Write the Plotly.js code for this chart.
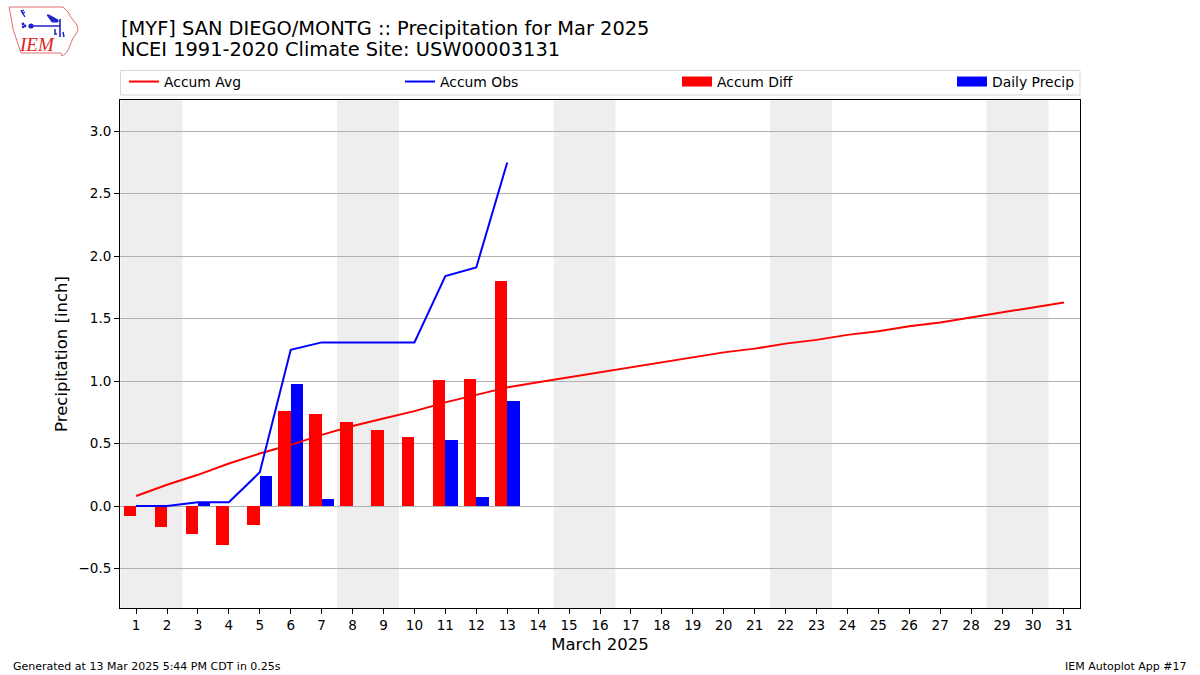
<!DOCTYPE html>
<html><head><meta charset="utf-8">
<script src="https://cdn.plot.ly/plotly-3.0.1.min.js"></script>
<style>html,body{margin:0;padding:0;background:#fff}</style>
</head><body><div id="chart" style="width:1200px;height:675px"></div>
<script>
// ---- data ----
const days = [1,2,3,4,5,6,7,8,9,10,11,12,13,14,15,16,17,18,19,20,21,22,23,24,25,26,27,28,29,30,31];
const tickLabels = days.map(String);
const accumAvg = [0.08,0.17,0.25,0.34,0.42,0.49,0.57,0.64,0.70,0.76,0.83,0.89,0.95,0.99,1.03,1.07,1.11,1.15,1.19,1.23,1.26,1.30,1.33,1.37,1.40,1.44,1.47,1.51,1.55,1.59,1.63];
const obsDays = [1,2,3,4,5,6,7,8,9,10,11,12,13];
const accumObs = [0.00,0.00,0.03,0.03,0.27,1.25,1.31,1.31,1.31,1.31,1.84,1.91,2.75];
const accumDiff = [-0.08,-0.17,-0.22,-0.31,-0.15,0.76,0.74,0.67,0.61,0.55,1.01,1.02,1.80];
const dailyPrecip = [0.00,0.00,0.03,0.00,0.24,0.98,0.06,0.00,0.00,0.00,0.53,0.07,0.84];
const year = 2025, monthIndex = 2;

const FONT = '"DejaVu Sans", Verdana, sans-serif';
const W = 1200, H = 675, ML = 120, MR = 120, MT = 100, MB = 67;
const PW = W - ML - MR, PH = H - MT - MB;
const px = x => (x - ML) / PW;
const py = y => (H - MB - y) / PH;

// weekend shading runs
const shapes = [];
let runStart = null;
days.forEach((d, i) => {
  const wd = new Date(year, monthIndex, d).getDay();
  const we = (wd === 0 || wd === 6);
  if (we && runStart === null) runStart = d;
  if ((!we || i === days.length - 1) && runStart !== null) {
    const end = we ? d : d - 1;
    shapes.push({type:'rect', xref:'x', yref:'paper', x0:runStart-0.5, x1:end+0.5, y0:0, y1:1,
      fillcolor:'#eeeeee', line:{width:0}, layer:'below'});
    runStart = null;
  }
});
// legend frame
shapes.push({type:'rect', xref:'paper', yref:'paper', x0:px(120.5), x1:px(1080), y0:py(95), y1:py(70.5),
  line:{color:'#d6d6d6', width:1}, fillcolor:'rgba(255,255,255,0.8)', layer:'below'});

const traces = [
  {type:'bar', x:obsDays, y:accumDiff, name:'Accum Diff', marker:{color:'#ff0000', line:{width:0}},
   width:0.4, offset:-0.4, showlegend:false},
  {type:'bar', x:obsDays, y:dailyPrecip, name:'Daily Precip', marker:{color:'#0000ff', line:{width:0}},
   width:0.4, offset:0, showlegend:false},
  {type:'scatter', mode:'lines', x:days, y:accumAvg, name:'Accum Avg', line:{color:'#ff0000', width:2},
   legend:'legend'},
  {type:'scatter', mode:'lines', x:obsDays, y:accumObs, name:'Accum Obs', line:{color:'#0000ff', width:2},
   legend:'legend2'},
  // legend keys for the bar series (wide rectangular patches)
  {type:'scatter', mode:'lines', x:[null], y:[null], name:'Accum Diff', line:{color:'#ff0000', width:10},
   legend:'legend3', hoverinfo:'skip'},
  {type:'scatter', mode:'lines', x:[null], y:[null], name:'Daily Precip', line:{color:'#0000ff', width:10},
   legend:'legend4', hoverinfo:'skip'}
];

const legBase = {orientation:'h', xanchor:'left', yanchor:'middle', y:py(82), bgcolor:'rgba(0,0,0,0)',
  borderwidth:0, font:{family:FONT, size:13.9, color:'#000'}, itemwidth:30};
const logoSvg = `<svg xmlns="http://www.w3.org/2000/svg" width="72" height="56" viewBox="0 0 72 56">
<path d="M2,2 L56,2 L58,4 L61,7 L63,11 L66,15 L70,20 L71,25 L69,29 L66,33 L64,38 L62,43 L60,47 L58,49 L55,51 L54,48 L14,48 L12,42 L10,36 L8,30 L6,24 L5,18 L4,12 L3,7 Z" fill="none" stroke="#e07070" stroke-width="1"/>
<text x="13" y="46" font-family="Liberation Serif, DejaVu Serif, serif" font-style="italic" font-size="19" fill="#dd2222">IEM</text>
<path d="M14,5 L18,12 M14,7 L17,5 M15,9 L18,7" stroke="#2222cc" stroke-width="1.3" fill="none"/>
<circle cx="16" cy="19" r="1.4" fill="#2222cc"/><circle cx="18" cy="21" r="1.4" fill="#2222cc"/><circle cx="16" cy="22" r="1.2" fill="#2222cc"/>
<circle cx="24" cy="21" r="2.6" fill="#2222cc"/>
<path d="M24,21 L53,21 M53,14 L53,32" stroke="#2222cc" stroke-width="1.6" fill="none"/>
<path d="M40,10 L42,10 L51,15 L51,17 L45,17 Z" fill="#2222cc" stroke="#2222cc" stroke-width="1"/>
<path d="M48,24 L48,29 M56,27 L57,32 M47,29 L50,29" stroke="#2222cc" stroke-width="1.5" fill="none"/>
</svg>`;

const layout = {
  width:W, height:H, margin:{l:ML, r:MR, t:MT, b:MB},
  paper_bgcolor:'#fff', plot_bgcolor:'rgba(0,0,0,0)',
  font:{family:FONT, size:13.5, color:'#000'},
  barmode:'overlay', bargap:0,
  showlegend:true,
  legend:Object.assign({}, legBase, {x:px(124)}),
  legend2:Object.assign({}, legBase, {x:px(400)}),
  legend3:Object.assign({}, legBase, {x:px(677)}),
  legend4:Object.assign({}, legBase, {x:px(952)}),
  xaxis:{range:[0.48,31.52], tickmode:'array', tickvals:days, ticktext:tickLabels,
    ticks:'outside', ticklen:5, tickcolor:'#000', showline:true, mirror:true, linecolor:'#000', linewidth:1,
    showgrid:false, zeroline:false, tickfont:{size:13.5},
    title:{text:'March 2025', font:{size:16.5}, standoff:6}},
  yaxis:{range:[-0.816,3.25], tick0:0, dtick:0.5, tickformat:'.1f',
    ticks:'outside', ticklen:5, tickcolor:'#000', showline:true, mirror:true, linecolor:'#000', linewidth:1,
    showgrid:true, gridcolor:'#b0b0b0', gridwidth:1, zeroline:false, tickfont:{size:13.5},
    title:{text:'Precipitation [inch]', font:{size:16.5}, standoff:6}},
  shapes:shapes,
  images:[{source:'data:image/svg+xml;charset=utf-8,' + encodeURIComponent(logoSvg), xref:'paper', yref:'paper',
    x:px(7), y:py(5), sizex:72/PW, sizey:56/PH, sizing:'stretch', xanchor:'left', yanchor:'top', layer:'above'}],
  annotations:[
    {text:'[MYF] SAN DIEGO/MONTG :: Precipitation for Mar 2025', xref:'paper', yref:'paper', x:px(119), y:py(28),
     xanchor:'left', yanchor:'middle', showarrow:false, font:{size:19.4}},
    {text:'NCEI 1991-2020 Climate Site: USW00003131', xref:'paper', yref:'paper', x:px(119), y:py(50),
     xanchor:'left', yanchor:'middle', showarrow:false, font:{size:19.4}},
    {text:'Generated at 13 Mar 2025 5:44 PM CDT in 0.25s', xref:'paper', yref:'paper', x:px(11), y:py(666),
     xanchor:'left', yanchor:'middle', showarrow:false, font:{size:11}},
    {text:'IEM Autoplot App #17', xref:'paper', yref:'paper', x:px(1189), y:py(666),
     xanchor:'right', yanchor:'middle', showarrow:false, font:{size:11}}
  ]
};
Plotly.newPlot('chart', traces, layout, {displayModeBar:false, staticPlot:true});
</script></body></html>
